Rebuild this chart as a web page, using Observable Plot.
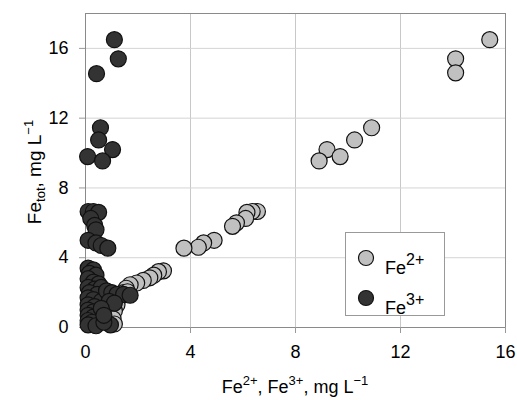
<!DOCTYPE html>
<html>
<head>
<meta charset="utf-8">
<script src="https://cdn.jsdelivr.net/npm/d3@7"></script>
<script src="https://cdn.jsdelivr.net/npm/@observablehq/plot@0.6"></script>
<style>
  html, body { margin: 0; padding: 0; background: #fff; }
  #wrap { position: relative; width: 517px; height: 400px; font-family: "Liberation Sans", Arial, sans-serif; }
  #legend { position: absolute; left: 345px; top: 232px; width: 100px; height: 84px; border: 1px solid #999; background: #fff; box-sizing: border-box; }
  #legend .item { position: absolute; left: 11px; display: flex; align-items: center; font-size: 18px; color: #000; }
  #legend sup { font-size: 16px; position: relative; top: -2px; }
</style>
</head>
<body>
<div id="wrap"></div>
<script>
// Fe2+ (x) vs Fe_tot (y)
const fe2x = [15.4,14.1,14.1,10.9,10.25,9.2,9.7,8.9,
  6.55,6.35,6.15,6.1,5.75,5.6,4.9,4.5,4.3,3.75,
  2.97,2.78,2.6,2.45,2.2,1.95,1.7,1.55,1.45,1.6,1.3,1.2,1.1,1.05,1.1];
const fe2y = [16.5,15.4,14.6,11.45,10.75,10.2,9.8,9.55,
  6.65,6.65,6.6,6.25,6.0,5.8,5.0,4.85,4.6,4.55,
  3.25,3.2,3.0,2.85,2.7,2.55,2.45,2.25,2.0,2.05,1.75,1.3,0.95,0.5,0.2];
// Fe3+ (x) vs Fe_tot (y)
const fe3x = [1.1,1.25,0.42,0.57,0.5,1.03,0.08,0.65,
  0.1,0.3,0.5,0.2,0.35,0.4,0.1,0.4,0.6,0.85,
  0.1,0.3,0.15,0.4,0.1,0.3,0.5,0.1,0.35,0.6,0.15,0.45,0.1,0.3,0.6,0.1,0.35,0.1,0.3,0.1,0.3,0.1,0.25,0.1,0.4,0.95,0.7,
  0.8,1.0,1.2,1.45,1.7,0.9,1.1,0.6,0.7];
const fe3y = [16.5,15.4,14.55,11.45,10.75,10.2,9.8,9.55,
  6.65,6.65,6.6,6.25,5.85,5.6,5.0,4.85,4.7,4.55,
  3.4,3.3,3.1,3.0,2.8,2.6,2.5,2.3,2.2,2.3,2.0,1.9,1.7,1.6,1.5,1.3,1.2,1.0,0.9,0.7,0.6,0.4,0.3,0.15,0.1,0.15,0.3,
  2.1,2.0,1.9,1.9,1.85,1.5,1.4,1.1,0.7];
const xTicks = [0,4,8,12,16];
const yTicks = [0,4,8,12,16];

const fe2 = fe2x.map((x,i) => ({x, y: fe2y[i]}));
const fe3 = fe3x.map((x,i) => ({x, y: fe3y[i]}));

const plot = Plot.plot({
  width: 517, height: 400,
  marginLeft: 85, marginRight: 12, marginTop: 13, marginBottom: 73,
  style: {fontFamily: '"Liberation Sans", Arial, sans-serif', fontSize: "18px", background: "#fff"},
  x: {domain: [0,16]},
  y: {domain: [0,18]},
  marks: [
    Plot.gridX(xTicks.filter(t => t > 0 && t < 16), {stroke: "#c8c8c8", strokeOpacity: 1}),
    Plot.gridY(yTicks.filter(t => t > 0), {stroke: "#d4d4d4", strokeOpacity: 1}),
    Plot.frame({stroke: "#8a8a8a"}),
    Plot.axisX({ticks: xTicks, tickSize: 6, tickPadding: 12, stroke: "#999", label: null, fill: "#000"}),
    Plot.axisY({ticks: yTicks, tickSize: 6, tickPadding: 11, stroke: "#999", label: null, fill: "#000"}),
    Plot.dot(fe2, {x: "x", y: "y", r: 8, fill: "#c0c0c0", stroke: "#111", strokeWidth: 1.2}),
    Plot.dot(fe3, {x: "x", y: "y", r: 8, fill: "#333333", stroke: "#111", strokeWidth: 1.2})
  ]
});

const svg = d3.select(plot);
const xl = svg.append("text").attr("x", 295).attr("y", 393).attr("text-anchor", "middle")
  .attr("font-size", 18).attr("fill", "#000");
xl.append("tspan").text("Fe");
xl.append("tspan").attr("font-size", 13).attr("dy", -8).text("2+");
xl.append("tspan").attr("dy", 8).text(", Fe");
xl.append("tspan").attr("font-size", 13).attr("dy", -8).text("3+");
xl.append("tspan").attr("dy", 8).text(", mg L");
xl.append("tspan").attr("font-size", 13).attr("dy", -8).text("\u22121");

const yl = svg.append("text").attr("transform", "translate(41,172) rotate(-90)").attr("text-anchor", "middle")
  .attr("font-size", 19).attr("fill", "#000");
yl.append("tspan").text("Fe");
yl.append("tspan").attr("font-size", 13).attr("dy", 4).text("tot");
yl.append("tspan").attr("dy", -4).text(", mg L");
yl.append("tspan").attr("font-size", 13).attr("dy", -8).text("\u22121");

const wrap = document.getElementById("wrap");
wrap.appendChild(plot);

const legend = document.createElement("div");
legend.id = "legend";
const items = [{label: "2+", fill: "#c0c0c0", top: 12}, {label: "3+", fill: "#333333", top: 52}];
for (const it of items) {
  const d = document.createElement("div");
  d.className = "item";
  d.style.top = it.top + "px";
  d.innerHTML = `<svg width="18" height="18" style="margin-right:10px"><circle cx="9" cy="9" r="7.5" fill="${it.fill}" stroke="#111" stroke-width="1.2"/></svg><span style="position:relative;top:8px">Fe<sup>${it.label}</sup></span>`;
  legend.appendChild(d);
}
wrap.appendChild(legend);
</script>
</body>
</html>
